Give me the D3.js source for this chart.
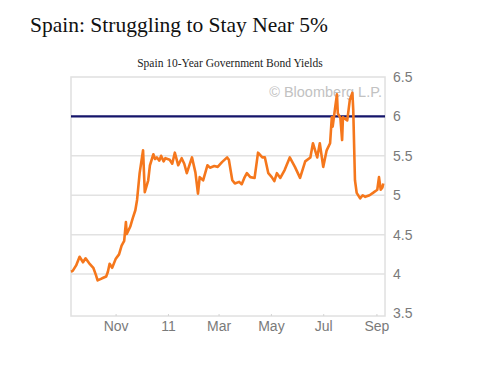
<!DOCTYPE html>
<html>
<head>
<meta charset="utf-8">
<script src="https://cdn.jsdelivr.net/npm/d3@7"></script>
<style>
  body { margin: 0; background: #fff; }
  .title { font-family: "Liberation Serif", serif; font-size: 21.5px; fill: #111; }
  .subtitle { font-family: "Liberation Serif", serif; font-size: 11.5px; fill: #222; }
  .axis text { font-family: "Liberation Sans", Arial, sans-serif; font-size: 14px; fill: #7a7a7a; }
  .axis path { display: none; }
  .axis line { stroke: #d4d4d4; }
  .watermark { font-family: "Liberation Sans", Arial, sans-serif; font-size: 14.5px; fill: #c2c2c2; }
</style>
</head>
<body>
<div id="graph"></div>
<script>
// closes
const dates = [
  '2010-09-10','2010-09-12','2010-09-16','2010-09-20','2010-09-24','2010-09-27','2010-10-01','2010-10-06',
  '2010-10-09','2010-10-11','2010-10-15','2010-10-17','2010-10-21','2010-10-23','2010-10-25','2010-10-28',
  '2010-11-01','2010-11-05','2010-11-08','2010-11-11','2010-11-13','2010-11-14','2010-11-18','2010-11-21',
  '2010-11-24','2010-11-26','2010-11-29','2010-12-03','2010-12-05','2010-12-09','2010-12-11','2010-12-15',
  '2010-12-17','2010-12-19','2010-12-22','2010-12-24','2010-12-27','2010-12-29','2011-01-03','2011-01-06',
  '2011-01-09','2011-01-13','2011-01-17','2011-01-20','2011-01-23','2011-01-29','2011-02-02','2011-02-05',
  '2011-02-07','2011-02-11','2011-02-16','2011-02-19','2011-02-24','2011-02-28','2011-03-05','2011-03-11',
  '2011-03-13','2011-03-17','2011-03-20','2011-03-25','2011-03-28','2011-03-31','2011-04-03','2011-04-07',
  '2011-04-12','2011-04-16','2011-04-21','2011-04-24','2011-04-28','2011-05-02','2011-05-05','2011-05-08',
  '2011-05-12','2011-05-17','2011-05-23','2011-05-29','2011-06-04','2011-06-10','2011-06-16','2011-06-19',
  '2011-06-24','2011-06-27','2011-07-01','2011-07-05','2011-07-09','2011-07-11','2011-07-12','2011-07-15',
  '2011-07-17','2011-07-18','2011-07-21','2011-07-23','2011-07-24','2011-07-29','2011-08-01','2011-08-04',
  '2011-08-05','2011-08-07','2011-08-09','2011-08-13','2011-08-16','2011-08-19','2011-08-24','2011-08-28',
  '2011-09-02','2011-09-04','2011-09-06','2011-09-08','2011-09-09'
];
const yields = [
  4.03, 4.04, 4.11, 4.22, 4.15, 4.20, 4.14, 4.08,
  3.99, 3.92, 3.94, 3.95, 3.97, 4.03, 4.13, 4.08,
  4.19, 4.25, 4.36, 4.42, 4.66, 4.51, 4.60, 4.71,
  4.81, 4.94, 5.28, 5.57, 5.04, 5.19, 5.38, 5.52,
  5.46, 5.48, 5.44, 5.50, 5.43, 5.47, 5.45, 5.40,
  5.54, 5.38, 5.47, 5.40, 5.28, 5.48, 5.29, 5.02,
  5.23, 5.19, 5.38, 5.35, 5.37, 5.36, 5.42, 5.48,
  5.45, 5.19, 5.15, 5.17, 5.14, 5.22, 5.28, 5.23,
  5.22, 5.54, 5.48, 5.48, 5.28, 5.23, 5.18, 5.28,
  5.22, 5.32, 5.48, 5.36, 5.22, 5.43, 5.48, 5.66,
  5.48, 5.66, 5.36, 5.57, 5.66, 5.99, 5.87, 6.12,
  6.28, 6.04, 5.98, 5.70, 5.99, 5.95, 6.21, 6.30,
  6.08, 5.19, 5.03, 4.96, 5.00, 4.98, 5.00, 5.03,
  5.07, 5.23, 5.07, 5.10, 5.15
];
const y_ticks = [3.5, 4, 4.5, 5, 5.5, 6, 6.5];
const grid_lines = [4, 4.5, 5, 5.5];
const ref_level = [6];
const x_tick_dates = ['2010-11-01','2011-01-01','2011-03-01','2011-05-01','2011-07-01','2011-09-01'];
const x_tick_labels = ['Nov', '11', 'Mar', 'May', 'Jul', 'Sep'];

const parse = d3.timeParse('%Y-%m-%d');
const data = dates.map((d, i) => ({date: parse(d), value: yields[i]}));

const w = 490;
const h = 367;
const plot_left = 71;
const plot_right = 385;
const plot_top = 77;
const plot_bottom = 316;

const svg = d3.select('#graph')
  .append('svg')
  .attr('width', w)
  .attr('height', h);

const xScale = d3.scaleTime()
  .domain([parse('2010-09-10'), parse('2011-09-11')])
  .range([plot_left, plot_right]);
const yScale = d3.scaleLinear()
  .domain([3.5, 6.5])
  .range([313.5, plot_top]);

//titles
svg.append('text')
  .attr('class', 'title')
  .attr('x', 30)
  .attr('y', 32)
  .text('Spain: Struggling to Stay Near 5%');

svg.append('text')
  .attr('class', 'subtitle')
  .attr('x', 230)
  .attr('y', 67)
  .attr('text-anchor', 'middle')
  .text('Spain 10-Year Government Bond Yields');

//gridlines
svg.selectAll('line.grid')
  .data(grid_lines)
  .enter()
  .append('line')
  .attr('class', 'grid')
  .attr('x1', plot_left)
  .attr('x2', plot_right)
  .attr('y1', d => yScale(d))
  .attr('y2', d => yScale(d))
  .attr('stroke', '#e2e2e2')
  .attr('stroke-width', 1.5);

//frame
svg.append('rect')
  .attr('x', plot_left)
  .attr('y', plot_top)
  .attr('width', plot_right - plot_left)
  .attr('height', plot_bottom - plot_top)
  .attr('fill', 'none')
  .attr('stroke', '#e0e0e0')
  .attr('stroke-width', 1.5);

//watermark
svg.append('text')
  .attr('class', 'watermark')
  .attr('x', 382)
  .attr('y', 97)
  .attr('text-anchor', 'end')
  .text('\u00a9 Bloomberg L.P.');

//6% reference line
svg.selectAll('line.ref')
  .data(ref_level)
  .enter()
  .append('line')
  .attr('class', 'ref')
  .attr('x1', plot_left)
  .attr('x2', plot_right)
  .attr('y1', d => yScale(d))
  .attr('y2', d => yScale(d))
  .attr('stroke', '#15156a')
  .attr('stroke-width', 2.2);

//yield line
const line = d3.line()
  .x(d => xScale(d.date))
  .y(d => yScale(d.value));

svg.append('path')
  .datum(data)
  .attr('d', line)
  .attr('fill', 'none')
  .attr('stroke', '#f5771c')
  .attr('stroke-width', 2.6)
  .attr('stroke-linejoin', 'round');

//x-Axis
const xAxis = d3.axisBottom(xScale)
  .tickValues(x_tick_dates.map(parse))
  .tickFormat((d, i) => x_tick_labels[i])
  .tickSize(-2)
  .tickPadding(5);
svg.append('g')
  .attr('class', 'axis')
  .attr('transform', 'translate(0,' + plot_bottom + ')')
  .call(xAxis);

//y-Axis
const yAxis = d3.axisRight(yScale)
  .tickValues(y_ticks)
  .tickFormat(d => String(d))
  .tickSize(0)
  .tickPadding(8);
svg.append('g')
  .attr('class', 'axis')
  .attr('transform', 'translate(' + plot_right + ',0)')
  .call(yAxis);
</script>
</body>
</html>
